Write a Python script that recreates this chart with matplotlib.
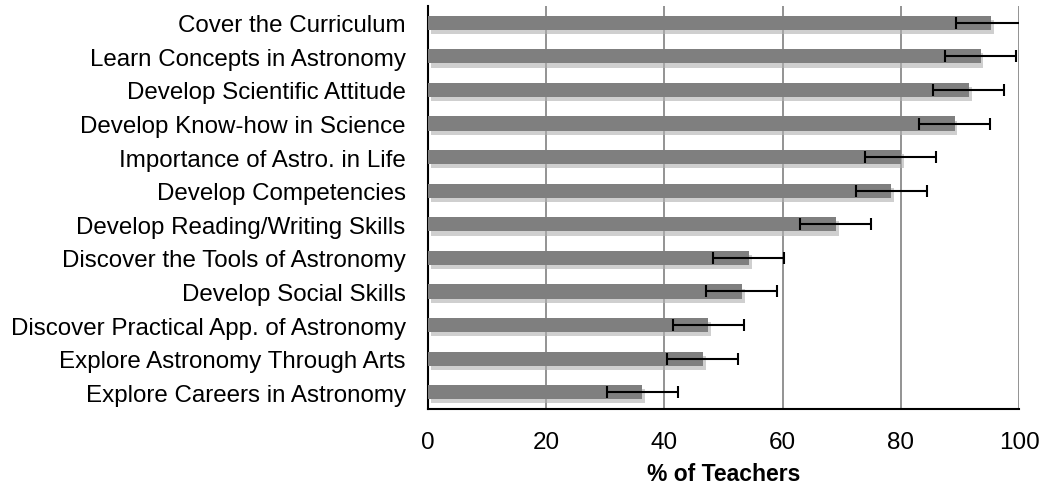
import matplotlib
matplotlib.use("Agg")
import matplotlib.pyplot as plt
import matplotlib.patheffects as pe

categories = [
    "Cover the Curriculum",
    "Learn Concepts in Astronomy",
    "Develop Scientific Attitude",
    "Develop Know-how in Science",
    "Importance of Astro. in Life",
    "Develop Competencies",
    "Develop Reading/Writing Skills",
    "Discover the Tools of Astronomy",
    "Develop Social Skills",
    "Discover Practical App. of Astronomy",
    "Explore Astronomy Through Arts",
    "Explore Careers in Astronomy",
]
percent = [95.3, 93.5, 91.5, 89.1, 80.0, 78.4, 69.0, 54.3, 53.1, 47.4, 46.5, 36.3]
error = [6.0, 6.0, 6.0, 6.0, 6.0, 6.0, 6.0, 6.0, 6.0, 6.0, 6.0, 6.0]
xticks = [0, 20, 40, 60, 80, 100]

plt.rcParams['font.family'] = ['Liberation Sans', 'DejaVu Sans']

fig = plt.figure(figsize=(10.41, 4.85), dpi=100)
ax = fig.add_axes([0.411, 0.1546, 0.568, 0.8310])

ypos = list(range(len(categories)))
bars = ax.barh(ypos, percent, height=0.42, color='#7f7f7f', zorder=3)
for b in bars:
    b.set_path_effects([pe.SimplePatchShadow(offset=(2, -3), shadow_rgbFace='#b0b0b0', alpha=0.6), pe.Normal()])
ax.errorbar(percent, ypos, xerr=error, fmt='none', ecolor='black', elinewidth=1.5,
            capsize=4.3, capthick=1.5, zorder=4, clip_on=True)

ax.set_xlim(0, 100)
ax.set_ylim(len(categories) - 0.5, -0.5)
ax.set_xticks(xticks)
ax.set_yticks(ypos)
ax.set_yticklabels(categories)
ax.tick_params(axis='y', length=0, pad=16, labelsize=17.4)
ax.tick_params(axis='x', length=0, pad=16, labelsize=17.5)
ax.xaxis.grid(True, color='#808080', linewidth=1.2, zorder=0)
ax.set_axisbelow(True)
for s in ['top', 'right']:
    ax.spines[s].set_visible(False)
ax.spines['left'].set_linewidth(1.5)
ax.spines['bottom'].set_linewidth(1.5)
ax.set_xlabel('% of Teachers', fontsize=16.5, fontweight='bold', labelpad=6)

fig.savefig('out.png', dpi=100)
